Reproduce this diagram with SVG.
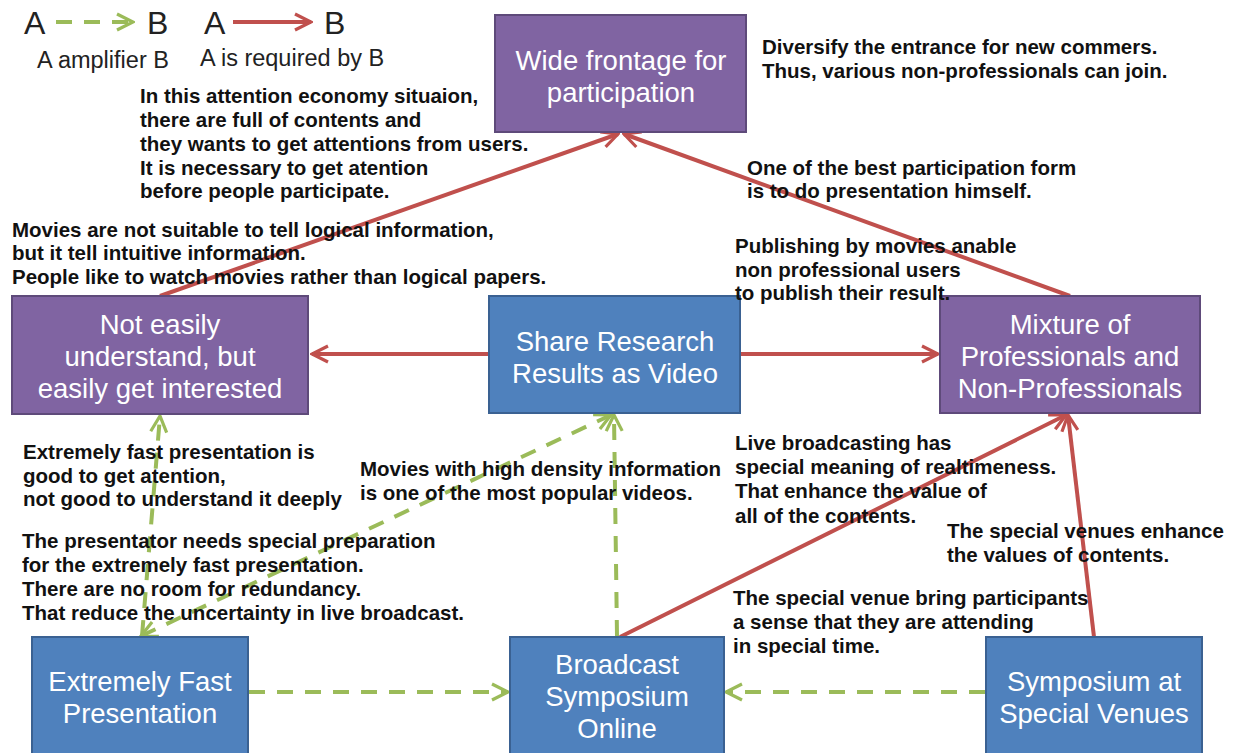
<svg xmlns="http://www.w3.org/2000/svg" width="1234" height="753" viewBox="0 0 1234 753">
<style>
.purple{fill:#8064A2;stroke:#5E4A7A;stroke-width:2}
.blue{fill:#4F81BD;stroke:#3A6192;stroke-width:2}
.nt{font-family:"Liberation Sans",Arial,sans-serif;font-size:27.5px;fill:#fff;text-anchor:middle}
.an{font-family:"Liberation Sans",Arial,sans-serif;font-size:20.5px;font-weight:bold;fill:#111}
.lg{font-family:"Liberation Sans",Arial,sans-serif;fill:#222}
.red{stroke:#C0504D;stroke-width:4;fill:none}
.grn{stroke:#9BBB59;stroke-width:4;fill:none;stroke-dasharray:16 12}
</style>
<defs>
<marker id="rh" viewBox="0 0 10 10" refX="9" refY="5" markerWidth="5" markerHeight="5" orient="auto" markerUnits="strokeWidth">
<path d="M1,1 L9,5 L1,9" fill="none" stroke="#C0504D" stroke-width="1.6"/>
</marker>
<marker id="gh" viewBox="0 0 10 10" refX="9" refY="5" markerWidth="5" markerHeight="5" orient="auto-start-reverse" markerUnits="strokeWidth">
<path d="M1,1 L9,5 L1,9" fill="none" stroke="#9BBB59" stroke-width="1.6"/>
</marker>
</defs>
<rect width="1234" height="753" fill="#fff"/>
<g id="legend">
<text class="lg" x="24" y="34" font-size="32">A</text>
<line x1="56" y1="22" x2="133" y2="22" class="grn" stroke-dasharray="14 12" marker-end="url(#gh)"/>
<text class="lg" x="147" y="34" font-size="32">B</text>
<text class="lg" x="204" y="34" font-size="32">A</text>
<line x1="233" y1="22" x2="311" y2="22" class="red" marker-end="url(#rh)"/>
<text class="lg" x="324" y="34" font-size="32">B</text>
<text class="lg" x="37" y="68" font-size="23.5">A amplifier B</text>
<text class="lg" x="200" y="66" font-size="23.5">A is required by B</text>
</g>
<g id="connectors">
<line x1="160" y1="296" x2="618" y2="134" class="red" marker-end="url(#rh)"/>
<line x1="1070" y1="296" x2="624" y2="134" class="red" marker-end="url(#rh)"/>
<line x1="489" y1="354" x2="312" y2="354" class="red" marker-end="url(#rh)"/>
<line x1="740" y1="354" x2="938" y2="354" class="red" marker-end="url(#rh)"/>
<line x1="620" y1="637" x2="1066" y2="415" class="red" marker-end="url(#rh)"/>
<line x1="1094" y1="637" x2="1068" y2="415" class="red" marker-end="url(#rh)"/>
<line x1="142" y1="636" x2="160" y2="416" class="grn" marker-end="url(#gh)"/>
<line x1="141" y1="636" x2="611" y2="415" class="grn" marker-start="url(#gh)" marker-end="url(#gh)"/>
<line x1="617" y1="636" x2="614" y2="415" class="grn" marker-end="url(#gh)"/>
<line x1="249" y1="692" x2="508" y2="692" class="grn" marker-end="url(#gh)"/>
<line x1="985" y1="692" x2="726" y2="692" class="grn" marker-end="url(#gh)"/>
</g>
<g id="wide">
<rect class="purple" x="495" y="15" width="251" height="117"/>
<text class="nt" x="621" y="70">Wide frontage for</text>
<text class="nt" x="621" y="102">participation</text>
</g>
<g id="noteasily">
<rect class="purple" x="12" y="296" width="296" height="118"/>
<text class="nt" x="160" y="334">Not easily</text>
<text class="nt" x="160" y="366">understand, but</text>
<text class="nt" x="160" y="398">easily get interested</text>
</g>
<g id="share">
<rect class="blue" x="489" y="296" width="251" height="117"/>
<text class="nt" x="615" y="351">Share Research</text>
<text class="nt" x="615" y="383">Results as Video</text>
</g>
<g id="mixture">
<rect class="purple" x="940" y="296" width="260" height="117"/>
<text class="nt" x="1070" y="334">Mixture of</text>
<text class="nt" x="1070" y="366">Professionals and</text>
<text class="nt" x="1070" y="398">Non-Professionals</text>
</g>
<g id="fast">
<rect class="blue" x="32" y="637" width="216" height="120"/>
<text class="nt" x="140" y="691">Extremely Fast</text>
<text class="nt" x="140" y="723">Presentation</text>
</g>
<g id="broadcast">
<rect class="blue" x="510" y="637" width="214" height="120"/>
<text class="nt" x="617" y="674">Broadcast</text>
<text class="nt" x="617" y="706">Symposium</text>
<text class="nt" x="617" y="738">Online</text>
</g>
<g id="venues">
<rect class="blue" x="986" y="637" width="216" height="120"/>
<text class="nt" x="1094" y="691">Symposium at</text>
<text class="nt" x="1094" y="723">Special Venues</text>
</g>
<g id="annotations">
<text class="an" x="140" y="103">In this attention economy situaion,</text>
<text class="an" x="140" y="127">there are full of contents and</text>
<text class="an" x="140" y="151">they wants to get attentions from users.</text>
<text class="an" x="140" y="175">It is necessary to get atention</text>
<text class="an" x="140" y="198">before people participate.</text>
<text class="an" x="12" y="237">Movies are not suitable to tell logical information,</text>
<text class="an" x="12" y="260">but it tell intuitive information.</text>
<text class="an" x="12" y="284">People like to watch movies rather than logical papers.</text>
<text class="an" x="762" y="54">Diversify the entrance for new commers.</text>
<text class="an" x="762" y="78">Thus, various non-professionals can join.</text>
<text class="an" x="747" y="175">One of the best participation form</text>
<text class="an" x="747" y="198">is to do presentation himself.</text>
<text class="an" x="735" y="253">Publishing by movies anable</text>
<text class="an" x="735" y="277">non professional users</text>
<text class="an" x="735" y="300">to publish their result.</text>
<text class="an" x="23" y="459">Extremely fast presentation is</text>
<text class="an" x="23" y="483">good to get atention,</text>
<text class="an" x="23" y="506">not good to understand it deeply</text>
<text class="an" x="360" y="476">Movies with high density information</text>
<text class="an" x="360" y="500">is one of the most popular videos.</text>
<text class="an" x="22" y="548">The presentator needs special preparation</text>
<text class="an" x="22" y="572">for the extremely fast presentation.</text>
<text class="an" x="22" y="596">There are no room for redundancy.</text>
<text class="an" x="22" y="620">That reduce the uncertainty in live broadcast.</text>
<text class="an" x="735" y="450">Live broadcasting has</text>
<text class="an" x="735" y="474">special meaning of realtimeness.</text>
<text class="an" x="735" y="498">That enhance the value of</text>
<text class="an" x="735" y="523">all of the contents.</text>
<text class="an" x="947" y="538">The special venues enhance</text>
<text class="an" x="947" y="562">the values of contents.</text>
<text class="an" x="733" y="605">The special venue bring participants</text>
<text class="an" x="733" y="629">a sense that they are attending</text>
<text class="an" x="733" y="653">in special time.</text>
</g>
</svg>
